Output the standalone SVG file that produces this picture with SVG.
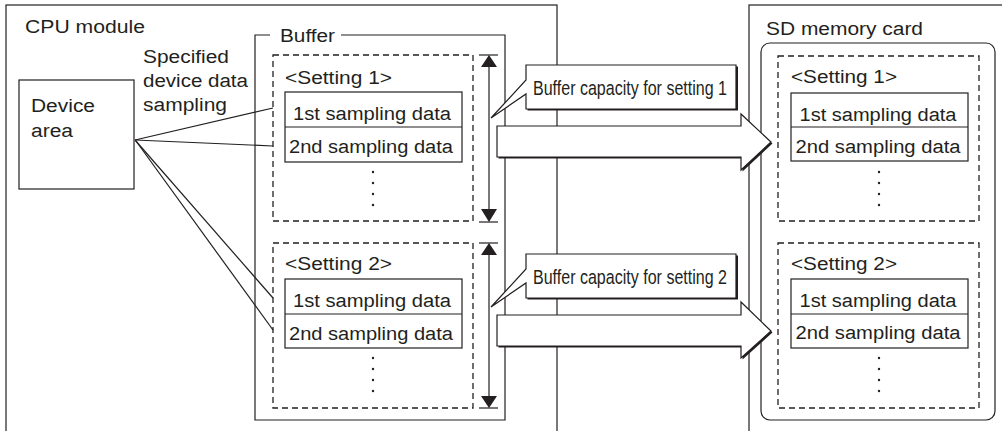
<svg xmlns="http://www.w3.org/2000/svg" width="1002" height="431" viewBox="0 0 1002 431">
<style>
.ln{fill:none;stroke:#231f20;stroke-width:1.2}
.box{fill:#fff;stroke:#231f20;stroke-width:1.2}
.dash{fill:none;stroke:#231f20;stroke-width:1.3;stroke-dasharray:6 4}
.t{font-family:"Liberation Sans",Arial,sans-serif;font-size:18px;fill:#231f20}
.tc{font-family:"Liberation Sans",Arial,sans-serif;font-size:20.5px;fill:#231f20}
.dot{fill:#231f20}
.shadow{fill:#231f20}
</style>
<defs>
<g id="dots"><circle cx="0" cy="0" r="1.2" class="dot"/><circle cx="0" cy="11" r="1.2" class="dot"/><circle cx="0" cy="22" r="1.2" class="dot"/><circle cx="0" cy="33" r="1.2" class="dot"/></g>
</defs>
<rect width="1002" height="431" fill="#fff"/>

<g id="cpu-module">
<rect x="6" y="5" width="551" height="450" class="box"/>
<text x="25" y="33" class="t" textLength="120" lengthAdjust="spacingAndGlyphs">CPU module</text>
<text x="143" y="63" class="t" textLength="86" lengthAdjust="spacingAndGlyphs">Specified</text>
<text x="143" y="87" class="t" textLength="105" lengthAdjust="spacingAndGlyphs">device data</text>
<text x="143" y="111" class="t" textLength="84" lengthAdjust="spacingAndGlyphs">sampling</text>
</g>

<g id="device-area">
<rect x="19" y="80" width="115" height="109" class="box"/>
<text x="31" y="112" class="t" textLength="64" lengthAdjust="spacingAndGlyphs">Device</text>
<text x="31" y="137" class="t" textLength="42" lengthAdjust="spacingAndGlyphs">area</text>
</g>

<g id="sd-card">
<rect x="749" y="5" width="270" height="450" class="box"/>
<text x="766" y="35" class="t" textLength="157" lengthAdjust="spacingAndGlyphs">SD memory card</text>
<rect x="761" y="43" width="234" height="377" rx="9" class="box"/>
</g>

<g id="buffer">
<path d="M270,35 H255 V420 H505 V35 H341" class="ln"/>
<text x="280" y="42" class="t" textLength="55" lengthAdjust="spacingAndGlyphs">Buffer</text>
</g>

<g id="buffer-setting1">
<rect x="273" y="55" width="200" height="166" class="dash"/>
<text x="285" y="84" class="t" textLength="107" lengthAdjust="spacingAndGlyphs">&lt;Setting 1&gt;</text>
<rect x="285" y="92" width="177" height="70" class="box"/>
<line x1="285" y1="127" x2="462" y2="127" class="ln"/>
<text x="372" y="120" class="t" text-anchor="middle" textLength="158" lengthAdjust="spacingAndGlyphs">1st sampling data</text>
<text x="371" y="153" class="t" text-anchor="middle" textLength="164" lengthAdjust="spacingAndGlyphs">2nd sampling data</text>
<use href="#dots" x="373" y="172"/>
</g>

<g id="buffer-setting2">
<rect x="273" y="243" width="200" height="165" class="dash"/>
<text x="285" y="270" class="t" textLength="107" lengthAdjust="spacingAndGlyphs">&lt;Setting 2&gt;</text>
<rect x="285" y="279" width="177" height="69" class="box"/>
<line x1="285" y1="314" x2="462" y2="314" class="ln"/>
<text x="372" y="307" class="t" text-anchor="middle" textLength="158" lengthAdjust="spacingAndGlyphs">1st sampling data</text>
<text x="371" y="340" class="t" text-anchor="middle" textLength="164" lengthAdjust="spacingAndGlyphs">2nd sampling data</text>
<use href="#dots" x="373" y="358"/>
</g>

<g id="sd-setting1">
<rect x="778" y="56" width="201" height="165" class="dash"/>
<text x="791" y="83" class="t" textLength="106" lengthAdjust="spacingAndGlyphs">&lt;Setting 1&gt;</text>
<rect x="791" y="93" width="177" height="68" class="box"/>
<line x1="791" y1="127" x2="968" y2="127" class="ln"/>
<text x="878" y="121" class="t" text-anchor="middle" textLength="157" lengthAdjust="spacingAndGlyphs">1st sampling data</text>
<text x="878" y="153" class="t" text-anchor="middle" textLength="165" lengthAdjust="spacingAndGlyphs">2nd sampling data</text>
<use href="#dots" x="879" y="172"/>
</g>

<g id="sd-setting2">
<rect x="778" y="243" width="201" height="165" class="dash"/>
<text x="791" y="270" class="t" textLength="106" lengthAdjust="spacingAndGlyphs">&lt;Setting 2&gt;</text>
<rect x="791" y="279" width="177" height="69" class="box"/>
<line x1="791" y1="314" x2="968" y2="314" class="ln"/>
<text x="878" y="307" class="t" text-anchor="middle" textLength="157" lengthAdjust="spacingAndGlyphs">1st sampling data</text>
<text x="878" y="339" class="t" text-anchor="middle" textLength="165" lengthAdjust="spacingAndGlyphs">2nd sampling data</text>
<use href="#dots" x="879" y="358"/>
</g>

<g id="callout1">
<path d="M527.5,66.5 H738 V110.5 H527.5 Z" class="shadow"/>
<path d="M526,65 H736 V109 H526 V94 L491,118 L526,80 Z" class="box"/>
<text x="533" y="95" class="tc" textLength="194" lengthAdjust="spacingAndGlyphs">Buffer capacity for setting 1</text>
</g>

<g id="callout2">
<path d="M527.5,255.5 H738 V299.5 H527.5 Z" class="shadow"/>
<path d="M526,254 H736 V298 H526 V283 L491,307 L526,269 Z" class="box"/>
<text x="533" y="284" class="tc" textLength="194" lengthAdjust="spacingAndGlyphs">Buffer capacity for setting 2</text>
</g>

<g id="connectors">
<line x1="135" y1="140" x2="273" y2="108" class="ln"/>
<line x1="135" y1="140" x2="273" y2="146" class="ln"/>
<line x1="135" y1="140" x2="273" y2="298" class="ln"/>
<line x1="136" y1="141" x2="273" y2="330" class="ln"/>

<line x1="479" y1="55" x2="498" y2="55" class="ln"/>
<line x1="479" y1="222" x2="498" y2="222" class="ln"/>
<line x1="489" y1="60" x2="489" y2="217" class="ln"/>
<path d="M489,55 L481,67 H497 Z" class="dot"/>
<path d="M489,222 L481,209 H497 Z" class="dot"/>

<line x1="479" y1="243" x2="498" y2="243" class="ln"/>
<line x1="479" y1="408" x2="498" y2="408" class="ln"/>
<line x1="489" y1="248" x2="489" y2="403" class="ln"/>
<path d="M489,243 L481,255 H497 Z" class="dot"/>
<path d="M489,408 L481,396 H497 Z" class="dot"/>

<path d="M498.5,127.5 H742.5 V115.5 L772.5,143.5 L742.5,171.5 V158.5 H498.5 Z" class="shadow"/>
<path d="M497,126 H741 V114 L771,142 L741,170 V157 H497 Z" class="box"/>
<path d="M498.5,316.5 H742.5 V303.5 L772.5,332.5 L742.5,359.5 V347.5 H498.5 Z" class="shadow"/>
<path d="M497,315 H741 V302 L771,331 L741,358 V346 H497 Z" class="box"/>
</g>
</svg>
